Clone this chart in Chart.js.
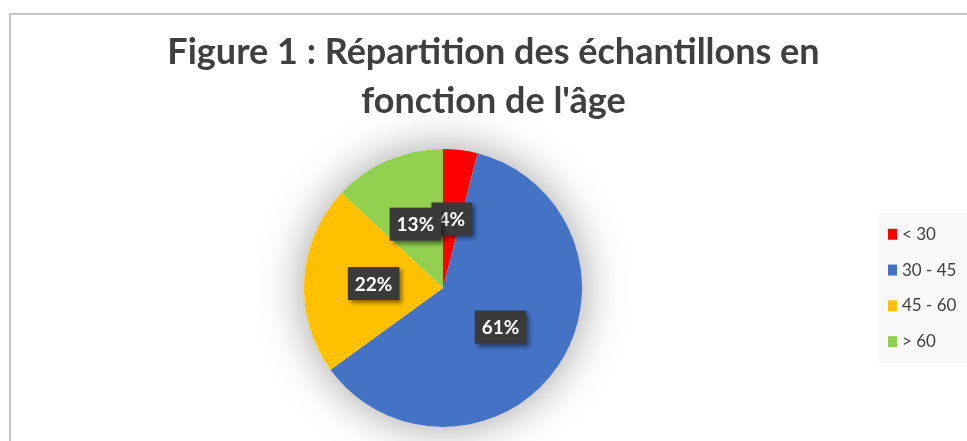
<!DOCTYPE html>
<html>
<head>
<meta charset="utf-8">
<script src="https://cdn.jsdelivr.net/npm/chart.js@4.4.1/dist/chart.umd.min.js"></script>
<style>
  html, body { margin: 0; padding: 0; background: #fff; overflow: hidden; }
  #frame {
    position: absolute; left: 9px; top: 13px; width: 1000px; height: 500px;
    border-left: 2px solid #c6c6c6; border-top: 2px solid #c6c6c6;
  }
  #wrap { position: absolute; left: 0; top: 0; width: 967px; height: 441px; }
</style>
</head>
<body>
<div id="frame"></div>
<div id="wrap"><canvas id="pieChart"></canvas></div>
<script>
// Données
const titleLines = ["Figure 1 : Répartition des échantillons en", "fonction de l'âge"];
const ageGroups = ["< 30", "30 - 45", "45 - 60", "> 60"];
const shares = [4, 61, 22, 13];
const sliceColors = ['#ff0000', '#4472c4', '#ffc000', '#92d050'];

// réserve la place de la légende à droite (le titre reste centré sur toute la largeur)
const legendSpace = {
  id: 'legendSpace',
  beforeInit(chart) {
    Chart.layouts.addBox(chart, {
      position: 'right', weight: 500, fullSize: false, options: {},
      left: 0, top: 0, right: 0, bottom: 0, width: 0, height: 0,
      isHorizontal() { return false; },
      update(maxWidth, maxHeight) { this.width = 101; this.height = maxHeight; },
      draw() {}
    });
  }
};

// ombre douce autour du camembert
const shadowPlugin = {
  id: 'pieShadow',
  beforeDatasetsDraw(chart) {
    const arc = chart.getDatasetMeta(0).data[0];
    if (!arc) return;
    const ctx = chart.ctx;
    ctx.save();
    ctx.beginPath();
    ctx.arc(arc.x, arc.y, arc.outerRadius, 0, Math.PI * 2);
    ctx.fillStyle = '#ffffff';
    ctx.shadowColor = 'rgba(0,0,0,0.38)';
    ctx.shadowBlur = 45;
    ctx.fill();
    ctx.restore();
  }
};

// légende à droite, sur fond gris clair
const legendPlugin = {
  id: 'sideLegend',
  afterDraw(chart) {
    const ctx = chart.ctx;
    const cy = (chart.chartArea.top + chart.chartArea.bottom) / 2;
    const step = 35.8;
    const y0 = cy - step * (ageGroups.length - 1) / 2;
    ctx.save();
    ctx.fillStyle = '#f8f8f8';
    ctx.fillRect(878, y0 - 21, chart.width - 878, step * (ageGroups.length - 1) + 42);
    ctx.font = '17px Lato';
    ctx.textBaseline = 'middle';
    ctx.textAlign = 'left';
    ageGroups.forEach((g, i) => {
      const y = y0 + i * step;
      ctx.fillStyle = sliceColors[i];
      ctx.fillRect(888, y - 5.5, 9, 11);
      ctx.fillStyle = '#404040';
      ctx.fillText(g, 902, y);
    });
    ctx.restore();
  }
};

// étiquettes de pourcentage dans des cadres sombres
const labelPlugin = {
  id: 'pctLabels',
  afterDatasetsDraw(chart) {
    const ctx = chart.ctx;
    const meta = chart.getDatasetMeta(0);
    ctx.save();
    ctx.font = 'bold 19px Lato';
    ctx.textAlign = 'center';
    ctx.textBaseline = 'middle';
    meta.data.forEach((arc, i) => {
      const pos = arc.tooltipPosition();
      const txt = shares[i] + '%';
      const w = ctx.measureText(txt).width + 14;
      const h = 33;
      ctx.save();
      ctx.shadowColor = 'rgba(0,0,0,0.45)';
      ctx.shadowBlur = 4;
      ctx.shadowOffsetX = 3;
      ctx.shadowOffsetY = 3;
      ctx.fillStyle = '#3a3a3a';
      ctx.fillRect(pos.x - w / 2, pos.y - h / 2, w, h);
      ctx.restore();
      ctx.fillStyle = '#ffffff';
      ctx.fillText(txt, pos.x, pos.y + 1);
    });
    ctx.restore();
  }
};

const ctx = document.getElementById('pieChart');
new Chart(ctx, {
  type: 'pie',
  data: {
    labels: ageGroups,
    datasets: [{
      data: shares,
      backgroundColor: sliceColors,
      borderWidth: 0
    }]
  },
  options: {
    responsive: true,
    maintainAspectRatio: false,
    animation: false,
    layout: { padding: { left: 20, right: 0, bottom: 14, top: 0 } },
    plugins: {
      title: {
        display: true,
        text: titleLines,
        color: '#3f3f3f',
        font: { family: 'Lato', size: 36, weight: 'bold', lineHeight: 1.36 },
        padding: { top: 28, bottom: 23 }
      },
      legend: { display: false },
      tooltip: { enabled: false }
    }
  },
  plugins: [legendSpace, shadowPlugin, labelPlugin, legendPlugin]
});
</script>
</body>
</html>
